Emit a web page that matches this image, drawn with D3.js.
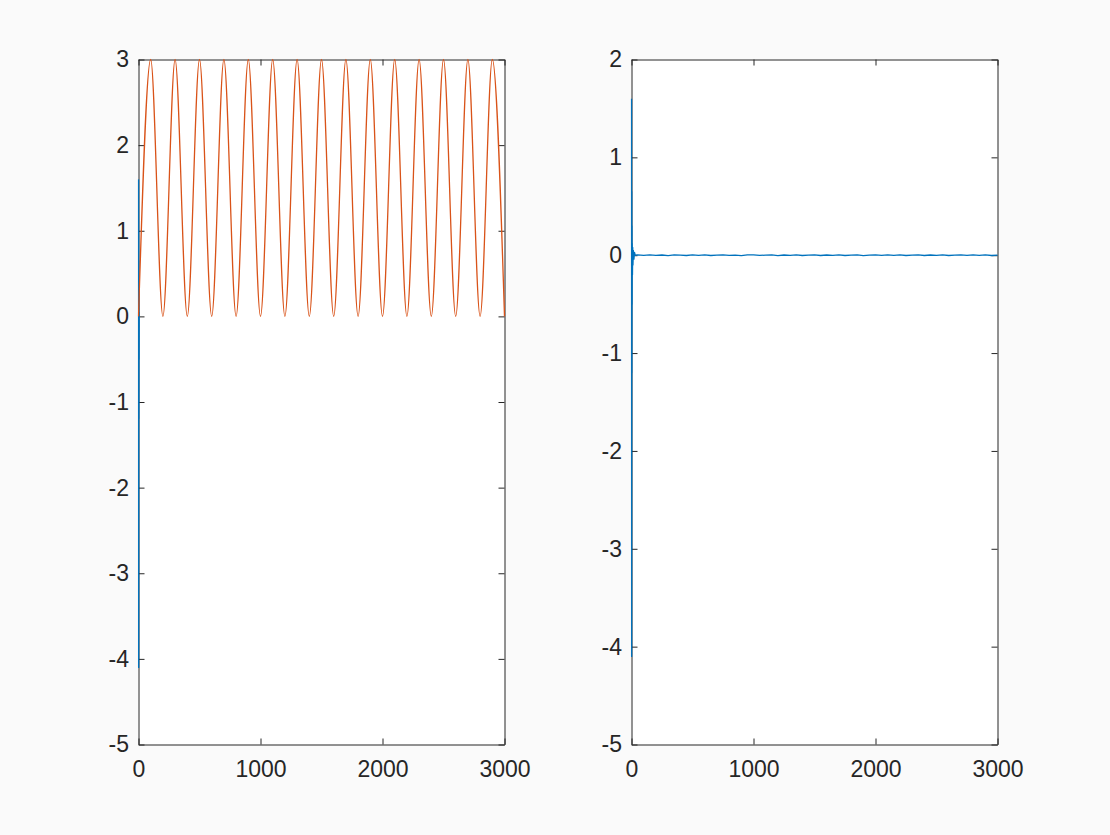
<!DOCTYPE html>
<html>
<head>
<meta charset="utf-8">
<script src="https://cdn.jsdelivr.net/npm/d3@7"></script>
<style>
  html, body { margin: 0; padding: 0; background: #fafafa; }
  svg { display: block; }
</style>
</head>
<body>
<div id="chartDiv"></div>
<script>
// ---- data ----
var xTicks = [0, 1000, 2000, 3000];
var leftYTicks = [-5, -4, -3, -2, -1, 0, 1, 2, 3];
var rightYTicks = [-5, -4, -3, -2, -1, 0, 1, 2];

// orange wave: extremes every 100 samples (troughs at 0, 200, ... peaks at 100, 300, ...)
var waveX = [0,100,200,300,400,500,600,700,800,900,1000,1100,1200,1300,1400,1500,
             1600,1700,1800,1900,2000,2100,2200,2300,2400,2500,2600,2700,2800,2900,3000];
var waveY = [0,3,0,3,0,3,0,3,0,3,0,3,0,3,0,3,0,3,0,3,0,3,0,3,0,3,0,3,0,3,0];

// blue start-up transient (first few samples)
var spikeX = [0, 1, 2, 3, 4, 5, 6, 8, 10, 12, 15, 20, 25, 30];
var spikeY = [1.6, -4.1, 0.65, -1.2, 0.3, -0.5, 0.12, -0.2, 0.08, -0.1, 0.05, -0.04, 0.03, 0];

// left panel: blue only shows during the transient
var leftBlueX = [0, 1, 2, 3, 4, 5, 6];
var leftBlueY = [1.6, -4.1, 0.65, -1.2, 0.3, -0.5, 0.05];

// blue residual after the transient, sampled every 50
var noiseX = [50,100,150,200,250,300,350,400,450,500,550,600,650,700,750,800,850,900,950,1000,
              1050,1100,1150,1200,1250,1300,1350,1400,1450,1500,1550,1600,1650,1700,1750,1800,
              1850,1900,1950,2000,2050,2100,2150,2200,2250,2300,2350,2400,2450,2500,2550,2600,
              2650,2700,2750,2800,2850,2900,2950,3000];
var noiseY = [0.003,-0.002,0.004,-0.001,0.002,-0.004,0.003,0.001,-0.003,0.004,-0.001,0.003,-0.003,0.001,
              0.004,-0.002,0.001,-0.004,0.003,0.003,-0.002,0.001,0.003,-0.004,0.002,-0.001,0.004,-0.003,
              0.001,0.003,-0.003,0.002,-0.001,0.004,-0.003,0.001,0.003,-0.004,0.001,0.003,-0.002,0.004,
              -0.001,0.003,-0.003,0.001,0.003,-0.003,0.002,-0.001,0.004,-0.003,0.001,0.003,-0.002,0.003,
              -0.001,0.003,-0.003,0.001];

var blue = "#0072bd", orange = "#d95319", axisColor = "#262626";

var svg = d3.select("#chartDiv").append("svg")
    .attr("width", 1110)
    .attr("height", 835);

var top_px = 59.5, bottom_px = 744.5, tickLen = 6;
var fmt = function(d) { return String(d); };

function drawAxes(left, right, yDomain, yTicks, series) {
  var x_scale = d3.scaleLinear().domain([0, 3000]).range([left, right]);
  var y_scale = d3.scaleLinear().domain(yDomain).range([bottom_px, top_px]);

  var g = svg.append("g");
  g.append("rect")
    .attr("x", left).attr("y", top_px)
    .attr("width", right - left).attr("height", bottom_px - top_px)
    .attr("fill", "#ffffff");

  // box + mirrored inward ticks, MATLAB style
  var xAxisB = d3.axisBottom(x_scale).tickValues(xTicks).tickFormat(fmt).tickSizeInner(-tickLen).tickSizeOuter(0).tickPadding(16);
  var xAxisT = d3.axisTop(x_scale).tickValues(xTicks).tickSizeInner(-tickLen).tickSizeOuter(0).tickFormat("");
  var yAxisL = d3.axisLeft(y_scale).tickValues(yTicks).tickFormat(fmt).tickSizeInner(-tickLen).tickSizeOuter(0).tickPadding(9.5);
  var yAxisR = d3.axisRight(y_scale).tickValues(yTicks).tickSizeInner(-tickLen).tickSizeOuter(0).tickFormat("");

  g.append("g").attr("transform", "translate(0," + bottom_px + ")").call(xAxisB);
  g.append("g").attr("transform", "translate(0," + top_px + ")").call(xAxisT);
  g.append("g").attr("transform", "translate(" + left + ",0)").call(yAxisL);
  g.append("g").attr("transform", "translate(" + right + ",0)").call(yAxisR);

  g.selectAll(".domain").attr("stroke", axisColor);
  g.selectAll(".tick line").attr("stroke", axisColor);
  g.selectAll(".tick text")
    .attr("fill", axisColor)
    .style("font-family", "'Liberation Sans', Arial, Helvetica, sans-serif")
    .style("font-size", "23px");

  // data lines on top of the box
  var clipId = "clip" + Math.round(left);
  g.append("clipPath").attr("id", clipId).append("rect")
    .attr("x", left - 1).attr("y", top_px - 1)
    .attr("width", right - left + 2).attr("height", bottom_px - top_px + 2);

  var plot = g.append("g").attr("clip-path", "url(#" + clipId + ")");
  series.forEach(function(s) {
    var pts = s.x.map(function(v, i) { return [v, s.y[i]]; });
    var line = d3.line()
      .x(function(d) { return x_scale(d[0]); })
      .y(function(d) { return y_scale(d[1]); })
      .curve(s.curve || d3.curveLinear);
    plot.append("path")
      .attr("d", line(pts))
      .attr("fill", "none")
      .attr("stroke", s.color)
      .attr("stroke-width", 1.3)
      .attr("stroke-linejoin", "round");
  });
}

drawAxes(138.5, 504.5, [-5, 3], leftYTicks, [
  {x: leftBlueX, y: leftBlueY, color: blue},
  {x: waveX, y: waveY, color: orange, curve: d3.curveMonotoneX}
]);

drawAxes(631.5, 997.5, [-5, 2], rightYTicks, [
  {x: spikeX.concat(noiseX), y: spikeY.concat(noiseY), color: blue}
]);
</script>
</body>
</html>
